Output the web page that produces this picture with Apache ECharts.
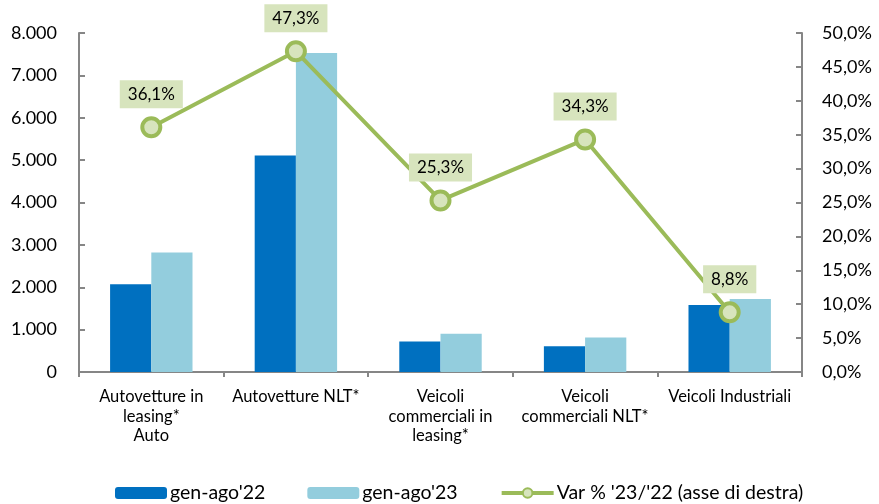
<!DOCTYPE html>
<html>
<head>
<meta charset="utf-8">
<script src="https://cdn.jsdelivr.net/npm/echarts@6/dist/echarts.min.js"></script>
<style>
html,body{margin:0;padding:0;background:#fff;}
#chart{width:879px;height:504px;}
</style>
</head>
<body>
<div id="chart"></div>
<script>
const categories = ['Autovetture in\nleasing*\nAuto', 'Autovetture NLT*', 'Veicoli\ncommerciali in\nleasing*', 'Veicoli\ncommerciali NLT*', 'Veicoli Industriali'];
const values22 = [2072, 5110, 722, 605, 1580];
const values23 = [2820, 7527, 905, 812, 1720];
const varPct = [36.1, 47.3, 25.3, 34.3, 8.8];
const leftTicks = { min: 0, max: 8000, interval: 1000 };
const rightTicks = { min: 0, max: 50, interval: 5 };

const FONT = 'Lato';
const fmtThousands = v => v === 0 ? '0' : String(v).replace(/\B(?=(\d{3})+(?!\d))/g, '.');
const fmtPct = v => v.toFixed(1).replace('.', ',') + '%';

const axisGray = '#868686';
const chart = echarts.init(document.getElementById('chart'));
chart.setOption({
  animation: false,
  textStyle: { fontFamily: FONT, color: '#000' },
  grid: { left: 79, right: 77, top: 33, bottom: 132, containLabel: false },
  legend: {
    left: 115, top: 483, padding: 0,
    itemWidth: 52, itemHeight: 12, itemGap: 42,
    textStyle: { fontFamily: FONT, fontSize: 19.5, color: '#000', padding: [0, 0, 0, -2] },
    data: [
      { name: "gen-ago'22" },
      { name: "gen-ago'23" },
      { name: "Var % '23/'22 (asse di destra)", lineStyle: { width: 4 } }
    ]
  },
  xAxis: {
    type: 'category',
    data: categories,
    axisLine: { lineStyle: { color: axisGray, width: 2 } },
    axisTick: { show: true, length: 5, lineStyle: { color: axisGray, width: 2 } },
    axisLabel: { fontFamily: FONT, fontSize: 16.5, color: '#000', lineHeight: 19.5, margin: 15, interval: 0 }
  },
  yAxis: [
    {
      type: 'value', min: leftTicks.min, max: leftTicks.max, interval: leftTicks.interval,
      splitLine: { show: false },
      axisLine: { show: true, lineStyle: { color: axisGray, width: 2 } },
      axisTick: { show: true, inside: true, length: 6, lineStyle: { color: axisGray, width: 2 } },
      axisLabel: { fontFamily: FONT, fontSize: 18, color: '#000', margin: 22, formatter: fmtThousands }
    },
    {
      type: 'value', min: rightTicks.min, max: rightTicks.max, interval: rightTicks.interval,
      position: 'right',
      splitLine: { show: false },
      axisLine: { show: true, lineStyle: { color: axisGray, width: 2 } },
      axisTick: { show: true, inside: true, length: 6, lineStyle: { color: axisGray, width: 2 } },
      axisLabel: { fontFamily: FONT, fontSize: 18, color: '#000', margin: 20, formatter: fmtPct }
    }
  ],
  series: [
    {
      name: "gen-ago'22", type: 'bar', data: values22,
      barGap: '0%', barCategoryGap: '43%',
      itemStyle: { color: '#0070C0' }
    },
    {
      name: "gen-ago'23", type: 'bar', data: values23,
      barGap: '0%', barCategoryGap: '43%',
      itemStyle: { color: '#93CDDD' }
    },
    {
      name: "Var % '23/'22 (asse di destra)", type: 'line', yAxisIndex: 1, data: varPct,
      symbol: 'circle', symbolSize: 18,
      lineStyle: { color: '#9BBB59', width: 4 },
      itemStyle: { color: '#D7E4BD', borderColor: '#9BBB59', borderWidth: 4 },
      label: {
        show: true, position: 'top', distance: 8,
        fontFamily: FONT, fontSize: 17, color: '#000',
        backgroundColor: '#D7E4BD', padding: [6, 8, 5, 8],
        formatter: p => fmtPct(p.value)
      },
      z: 5
    }
  ]
});
</script>
</body>
</html>
